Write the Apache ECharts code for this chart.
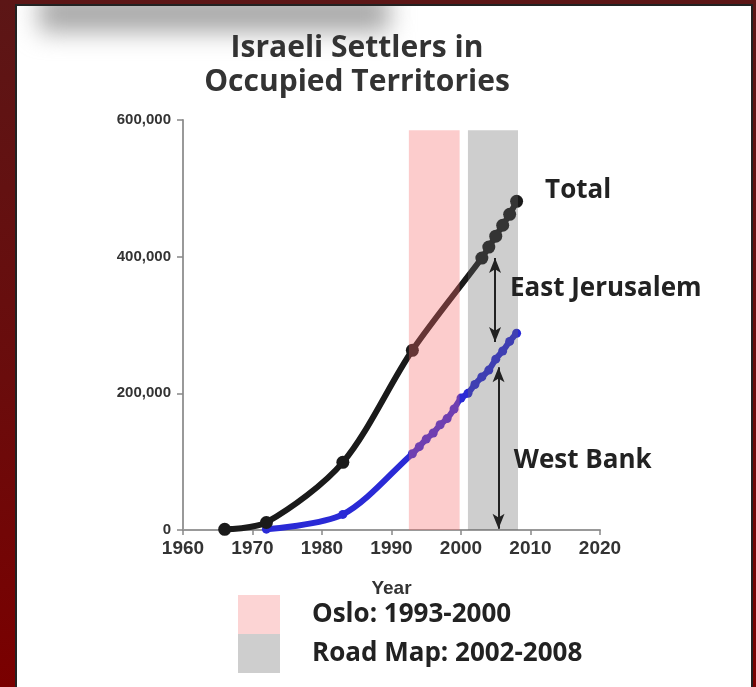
<!DOCTYPE html>
<html>
<head>
<meta charset="utf-8">
<script src="https://cdn.jsdelivr.net/npm/echarts@6/dist/echarts.min.js"></script>
<style>
  html, body { margin:0; padding:0; width:756px; height:687px; overflow:hidden;
    background: linear-gradient(#5c1616, #6a0c0c 55%, #7a0000); }
  #panel { position:absolute; left:15px; top:4px; width:734px; height:700px;
    background:#fff; border:2px solid #222; overflow:hidden; }
  #shadow { position:absolute; left:22px; top:-12px; width:350px; height:38px;
    background:#a8a8a8; filter: blur(12px); }
  #chart { position:absolute; left:0; top:0; width:756px; height:687px; }
</style>
</head>
<body>
<div id="panel"><div id="shadow"></div></div>
<div id="chart"></div>
<script>
// ---- data ----
const totalYears  = [1966, 1972, 1983, 1993, 2003, 2004, 2005, 2006, 2007, 2008];
const totalValues = [1000, 11000, 99000, 263000, 398000, 414000, 430000, 446000, 462000, 481000];

const westBankYears  = [1972, 1983, 1993, 1994, 1995, 1996, 1997, 1998, 1999, 2000, 2001, 2002, 2003, 2004, 2005, 2006, 2007, 2008];
const westBankValues = [1200, 22800, 111600, 122000, 133000, 142000, 154000, 163000, 177000, 193000, 200000, 213000, 224000, 234000, 250000, 262000, 276000, 288000];

const bandNames = ['Oslo: 1993-2000', 'Road Map: 2002-2008'];
const bandStart = [1992.5, 2001.0];
const bandEnd   = [1999.8, 2008.2];
const bandTop   = 585000;

const xMin = 1960, xMax = 2020, xStep = 10;
const yMin = 0, yMax = 600000, yStep = 200000;

const arrowX    = [2004.9, 2005.4];
const arrowFrom = [398000, 238000];
const arrowTo   = [275000, 2000];

const noteText = ['Total', 'East Jerusalem', 'West Bank'];
const noteX    = [2012.1, 2007.05, 2007.6];
const noteY    = [497000, 354000, 101000];

// ---- chart ----
const chart = echarts.init(document.getElementById('chart'), null, {renderer:'canvas'});
const pair = (xs, ys) => xs.map((x, i) => [x, ys[i]]);
const annFont = 'Open Sans';

const bandColors  = ['rgba(246,105,105,0.34)', 'rgba(106,106,106,0.33)'];
const legendColors = ['#fcd4d4', '#cecece'];

chart.setOption({
  backgroundColor: 'transparent',
  animation: false,
  title: {
    text: 'Israeli Settlers in\nOccupied Territories',
    left: 357, top: 31, padding: 0, textAlign: 'center',
    textStyle: { fontFamily: annFont, fontWeight: 'bold', fontSize: 30, lineHeight: 34, color: '#333' }
  },
  grid: { left: 183, right: 156, top: 120, bottom: 157, containLabel: false },
  xAxis: {
    type: 'value', min: xMin, max: xMax, interval: xStep,
    name: 'Year', nameLocation: 'middle', nameGap: 49,
    nameTextStyle: { fontFamily: 'Liberation Sans', fontWeight: 'bold', fontSize: 19, color: '#333' },
    axisLine: { show: true, lineStyle: { color: '#999', width: 2 } },
    axisTick: { show: true, length: 5, lineStyle: { color: '#888', width: 1.5 } },
    axisLabel: { fontFamily: 'Liberation Sans', fontWeight: 'bold', fontSize: 19, color: '#333', margin: 9,
                 formatter: v => String(v) },
    splitLine: { show: false }
  },
  yAxis: {
    type: 'value', min: yMin, max: yMax, interval: yStep,
    axisLine: { show: true, lineStyle: { color: '#999', width: 2 } },
    axisTick: { show: true, length: 6, lineStyle: { color: '#888', width: 1.5 } },
    axisLabel: { fontFamily: 'Liberation Sans', fontWeight: 'bold', fontSize: 15, color: '#333', margin: 12,
                 formatter: v => v.toLocaleString('en-US') },
    splitLine: { show: false }
  },
  legend: {
    orient: 'vertical', left: 238, top: 595, padding: 0, itemWidth: 42, itemHeight: 39, itemGap: 0,
    selectedMode: false, icon: 'rect',
    textStyle: { fontFamily: annFont, fontWeight: 'bold', fontSize: 26, color: '#222', padding: [5, 0, 0, 27] },
    data: bandNames.map((n, i) => ({ name: n, icon: 'rect', itemStyle: { color: legendColors[i], borderWidth: 0 } }))
  },
  series: [
    {
      name: 'West Bank', type: 'line', z: 3,
      data: pair(westBankYears, westBankValues),
      smooth: 0.3,
      symbol: 'circle', symbolSize: 9, showSymbol: true,
      lineStyle: { color: '#2a2ad6', width: 6 },
      itemStyle: { color: '#2a2ad6' }
    },
    {
      name: 'Total', type: 'line', z: 4,
      data: pair(totalYears, totalValues),
      smooth: 0.3,
      symbol: 'circle', symbolSize: 13, showSymbol: true,
      lineStyle: { color: '#1a1a1a', width: 6 },
      itemStyle: { color: '#1a1a1a' }
    },
    ...bandNames.map((n, i) => ({
      name: n, type: 'line', z: 10, data: [],
      itemStyle: { color: legendColors[i] },
      markArea: {
        silent: true, z: 10,
        itemStyle: { color: bandColors[i] },
        data: [[{ xAxis: bandStart[i], yAxis: 0 }, { xAxis: bandEnd[i], yAxis: bandTop }]]
      }
    })),
    {
      name: 'notes', type: 'line', z: 12, data: [],
      markLine: {
        silent: true, z: 12, symbol: ['arrow', 'arrow'], symbolSize: [9, 15],
        label: { show: false },
        lineStyle: { color: '#222', width: 2, type: 'solid' },
        data: arrowX.map((x, i) => [{ coord: [x, arrowFrom[i]] }, { coord: [x, arrowTo[i]] }])
      },
      markPoint: {
        silent: true, z: 12, symbol: 'circle', symbolSize: 1,
        itemStyle: { color: 'rgba(0,0,0,0)' },
        label: { show: true, position: 'inside', align: 'left', verticalAlign: 'middle',
                 fontFamily: annFont, fontWeight: 'bold', fontSize: 26, color: '#222',
                 formatter: p => p.name },
        data: noteText.map((t, i) => ({ name: t, coord: [noteX[i], noteY[i]] }))
      }
    }
  ]
});
</script>
</body>
</html>
